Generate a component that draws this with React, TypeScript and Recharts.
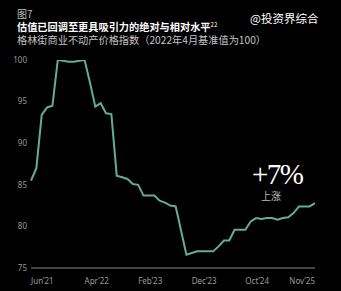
import { Line, LineChart, XAxis, YAxis } from 'recharts'

// Greenstreet commercial property price index, monthly Jun'21 – Nov'25 (Apr'22 = 100)
const months = [
  'Jun’21', 'Jul’21', 'Aug’21', 'Sep’21', 'Oct’21', 'Nov’21', 'Dec’21',
  'Jan’22', 'Feb’22', 'Mar’22', 'Apr’22', 'May’22', 'Jun’22', 'Jul’22', 'Aug’22', 'Sep’22', 'Oct’22', 'Nov’22', 'Dec’22',
  'Jan’23', 'Feb’23', 'Mar’23', 'Apr’23', 'May’23', 'Jun’23', 'Jul’23', 'Aug’23', 'Sep’23', 'Oct’23', 'Nov’23', 'Dec’23',
  'Jan’24', 'Feb’24', 'Mar’24', 'Apr’24', 'May’24', 'Jun’24', 'Jul’24', 'Aug’24', 'Sep’24', 'Oct’24', 'Nov’24', 'Dec’24',
  'Jan’25', 'Feb’25', 'Mar’25', 'Apr’25', 'May’25', 'Jun’25', 'Jul’25', 'Aug’25', 'Sep’25', 'Oct’25', 'Nov’25',
]

const indexValues = [
  85.5, 87.0, 93.4, 94.3, 94.5, 100.0, 99.9,
  99.8, 99.8, 99.9, 100.0, 97.3, 94.4, 94.8, 93.6, 93.5, 86.1, 85.9, 85.7,
  85.1, 85.0, 83.7, 83.7, 83.7, 83.1, 82.85, 82.5, 82.4, 79.5, 76.6, 76.8,
  77.0, 77.0, 77.0, 77.0, 77.6, 78.3, 78.3, 79.6, 79.6, 79.6, 80.6, 81.0,
  80.9, 81.0, 81.0, 80.8, 81.0, 81.1, 81.6, 82.4, 82.4, 82.4, 82.8,
]

const xTickLabels = ['Jun’21', 'Apr’22', 'Feb’23', 'Dec’23', 'Oct’24', 'Nov’25']
const yTicks = [75, 80, 85, 90, 95, 100]

const data = months.map((m, i) => ({ i, month: m, value: indexValues[i] }))
const xTicks = xTickLabels.map(l => months.indexOf(l))
const lastIdx = months.length - 1

const XTick = ({ x, y, payload }: any) => {
  const isLast = payload.value === lastIdx
  return (
    <text
      x={x}
      y={y + 8}
      textAnchor={isLast ? 'end' : 'start'}
      fill='#9a9a9a'
      fontSize={8}
      fontFamily='"Noto Sans", sans-serif'
    >
      {months[payload.value]}
    </text>
  )
}

const sans = '"Noto Sans CJK SC", "Noto Sans", sans-serif'

export default function App() {
  return (
    <div style={{ position: 'absolute', left: 0, top: 0, width: 341, height: 291, background: '#000', overflow: 'hidden' }}>
      <div style={{ position: 'absolute', left: 17, top: 9, fontSize: 10, lineHeight: '10px', color: '#bdbdbd', fontFamily: sans }}>图7</div>
      <div style={{ position: 'absolute', left: 17, top: 20.5, fontSize: 10.2, lineHeight: '11px', height: 11, color: '#fff', fontWeight: 700, fontFamily: sans, whiteSpace: 'nowrap' }}>
        估值已回调至更具吸引力的绝对与相对水平
        <span style={{ fontSize: 6, fontWeight: 400, position: 'relative', top: -4, lineHeight: '6px' }}>22</span>
      </div>
      <div style={{ position: 'absolute', left: 17, top: 33.5, fontSize: 10.2, lineHeight: '11px', color: '#c4c4c4', fontFamily: sans, whiteSpace: 'nowrap' }}>
        格林街商业不动产价格指数（2022年4月基准值为100）
      </div>
      <div style={{ position: 'absolute', left: 250, top: 11, fontSize: 11.5, lineHeight: '14px', color: '#fff', fontFamily: sans, whiteSpace: 'nowrap' }}>
        @投资界综合
      </div>

      <LineChart width={341} height={291} data={data} margin={{ top: 60, right: 26, bottom: 3, left: 0 }}>
        <XAxis
          dataKey='i'
          type='number'
          domain={[0, lastIdx]}
          ticks={xTicks}
          tick={<XTick />}
          tickLine={false}
          axisLine={{ stroke: '#5a5a5a', strokeWidth: 1.5 }}
          height={20}
          interval={0}
        />
        <YAxis
          domain={[75, 100]}
          ticks={yTicks}
          width={31}
          tickSize={0}
          tickMargin={4}
          axisLine={false}
          tickLine={false}
          allowDataOverflow
          tick={{ fill: '#9a9a9a', fontSize: 8, fontFamily: '"Noto Sans", sans-serif' }}
        />
        <Line
          type='linear'
          dataKey='value'
          stroke='#63ad98'
          strokeWidth={2}
          dot={false}
          isAnimationActive={false}
        />
      </LineChart>

      <div style={{ position: 'absolute', left: 252, top: 162, fontSize: 29, lineHeight: '25px', height: 25, color: '#fff', fontFamily: '"Liberation Serif", serif', letterSpacing: -1.5 }}>
        +7%
      </div>
      <div style={{ position: 'absolute', left: 261, top: 190, fontSize: 10, lineHeight: '11px', color: '#bdbdbd', fontFamily: sans }}>
        上涨
      </div>
    </div>
  )
}
